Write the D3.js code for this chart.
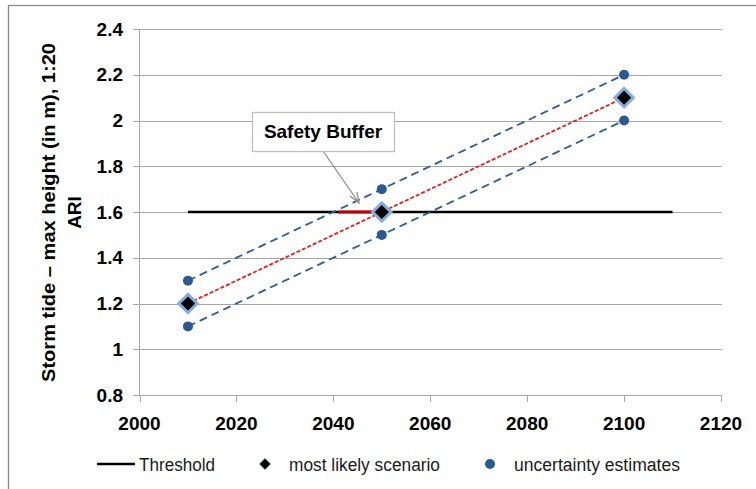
<!DOCTYPE html>
<html><head><meta charset="utf-8">
<script src="https://cdn.jsdelivr.net/npm/d3@7"></script>
<style>body{margin:0;background:#fff}</style>
</head><body>
<svg id="c" width="756" height="489"></svg>
<script>
const years = [2010, 2050, 2100];
const mostLikely = [1.2, 1.6, 2.1];
const upperEst = [1.3, 1.7, 2.2];
const lowerEst = [1.1, 1.5, 2.0];
const threshold = {from: 2010, to: 2110, value: 1.6};
const bufferSeg = [[2041, 1.6], [2050, 1.6]];
const xTicks = [2000, 2020, 2040, 2060, 2080, 2100, 2120];
const yTicks = [0.8, 1, 1.2, 1.4, 1.6, 1.8, 2, 2.2, 2.4];
const yTitle = ["Storm tide \u2013 max height (in m), 1:20", "ARI"];
const legendLabels = ["Threshold", "most likely scenario", "uncertainty estimates"];

const svg = d3.select("#c");
const font = "'Liberation Sans Narrow', 'Liberation Sans', sans-serif";
const x = d3.scaleLinear().domain([2000, 2120]).range([139.5, 721]);
const y = d3.scaleLinear().domain([0.8, 2.4]).range([395, 29]);

svg.append("rect").attr("x", 8.5).attr("y", 5.5).attr("width", 760).attr("height", 500)
  .attr("fill", "#fff").attr("stroke", "#888").attr("stroke-width", 1.3);

// gridlines
svg.append("g").selectAll("line").data(yTicks).join("line")
  .attr("x1", 133).attr("x2", 722)
  .attr("y1", d => Math.round(y(d)) + 0.5).attr("y2", d => Math.round(y(d)) + 0.5)
  .attr("stroke", "#a6a6a6").attr("stroke-width", 1);
svg.append("line").attr("x1", 139.5).attr("x2", 139.5).attr("y1", y(2.4)).attr("y2", y(0.8))
  .attr("stroke", "#a6a6a6");
// x tick marks
svg.append("g").selectAll("line").data(xTicks).join("line")
  .attr("x1", d => Math.round(x(d)) + 0.5).attr("x2", d => Math.round(x(d)) + 0.5)
  .attr("y1", y(0.8)).attr("y2", y(0.8) + 7)
  .attr("stroke", "#a6a6a6");

// tick labels
svg.append("g").selectAll("text").data(yTicks).join("text")
  .attr("x", 123).attr("y", d => y(d)).attr("dy", "0.35em")
  .attr("text-anchor", "end").attr("font-family", font).attr("font-weight", "bold")
  .attr("font-size", 19).attr("fill", "#000").text(d => d);
svg.append("g").selectAll("text").data(xTicks).join("text")
  .attr("x", d => x(d)).attr("y", 430)
  .attr("text-anchor", "middle").attr("font-family", font).attr("font-weight", "bold")
  .attr("font-size", 19).attr("fill", "#000").text(d => d);

// y title
svg.append("g").attr("transform", "translate(0,0)").selectAll("text").data(yTitle).join("text")
  .attr("transform", (d, i) => `translate(${55 + i * 26},212.5) rotate(-90)`)
  .attr("text-anchor", "middle").attr("font-family", font).attr("font-weight", "bold")
  .attr("font-size", 19).attr("fill", "#000")
  .attr("textLength", (d, i) => i === 0 ? 339 : null)
  .attr("lengthAdjust", "spacingAndGlyphs")
  .text(d => d);

// threshold
svg.append("line").attr("x1", x(threshold.from)).attr("x2", x(threshold.to))
  .attr("y1", y(threshold.value)).attr("y2", y(threshold.value))
  .attr("stroke", "#000").attr("stroke-width", 2.5);

const line = d3.line().x(d => x(d[0])).y(d => y(d[1]));
const z = (arr) => years.map((yr, i) => [yr, arr[i]]);

svg.append("path").attr("d", line(z(upperEst))).attr("fill", "none")
  .attr("stroke", "#2f5d96").attr("stroke-width", 1.8).attr("stroke-dasharray", "8,5");
svg.append("path").attr("d", line(z(lowerEst))).attr("fill", "none")
  .attr("stroke", "#2f5d96").attr("stroke-width", 1.8).attr("stroke-dasharray", "8,5");
svg.append("path").attr("d", line(z(mostLikely))).attr("fill", "none")
  .attr("stroke", "#e3201b").attr("stroke-width", 1.8).attr("stroke-dasharray", "4,2");

// safety buffer segment
svg.append("path").attr("d", line(bufferSeg)).attr("stroke", "#c00000").attr("stroke-width", 3);

// circles
const est = z(upperEst).concat(z(lowerEst));
svg.append("g").selectAll("circle").data(est).join("circle")
  .attr("cx", d => x(d[0])).attr("cy", d => y(d[1])).attr("r", 5).attr("fill", "#2a5a92");

// diamonds
svg.append("g").selectAll("path").data(z(mostLikely)).join("path")
  .attr("transform", d => `translate(${x(d[0])},${y(d[1])}) rotate(45)`)
  .attr("d", "M-6.5,-6.5H6.5V6.5H-6.5Z")
  .attr("fill", "#000").attr("stroke", "#86acdc").attr("stroke-width", 3);

// callout
const bx = 252, by = 112, bw = 142, bh = 39;
svg.append("line").attr("x1", 323).attr("y1", by + bh).attr("x2", 359).attr("y2", 203)
  .attr("stroke", "#8c8c8c").attr("stroke-width", 1.3);
svg.append("path").attr("d", "M350,196 L359,203 L357,192").attr("fill", "none")
  .attr("stroke", "#8c8c8c").attr("stroke-width", 1.3);
svg.append("rect").attr("x", bx + 0.5).attr("y", by + 0.5).attr("width", bw).attr("height", bh)
  .attr("fill", "#fff").attr("stroke", "#bfbfbf").attr("stroke-width", 1.3);
svg.append("text").attr("x", bx + bw / 2).attr("y", by + bh / 2).attr("dy", "0.35em")
  .attr("text-anchor", "middle").attr("font-family", font).attr("font-weight", "bold")
  .attr("font-size", 19).attr("fill", "#000").text("Safety Buffer");

// legend
const ly = 464;
const lx = [139, 289, 514];
const lw = [76, 151, 166];
svg.append("line").attr("x1", 97).attr("x2", 135).attr("y1", ly).attr("y2", ly)
  .attr("stroke", "#000").attr("stroke-width", 2.5);
svg.append("path").attr("transform", `translate(265,${ly}) rotate(45)`).attr("d", "M-4,-4H4V4H-4Z")
  .attr("fill", "#000").attr("stroke", "#8db4e2").attr("stroke-width", 0.8);
svg.append("circle").attr("cx", 490).attr("cy", ly).attr("r", 5).attr("fill", "#2a5a92");
svg.append("g").selectAll("text").data(legendLabels).join("text")
  .attr("x", (d, i) => lx[i]).attr("y", 471)
  .attr("font-family", font).attr("font-size", 18).attr("fill", "#1a1a1a")
  .attr("textLength", (d, i) => lw[i]).attr("lengthAdjust", "spacingAndGlyphs")
  .text(d => d);
</script>
</body></html>
